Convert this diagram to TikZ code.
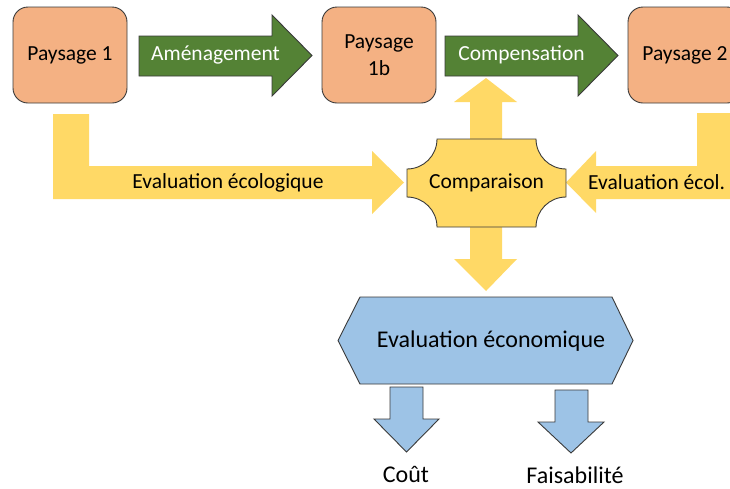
\documentclass[tikz,border=0pt]{standalone}
\usepackage{fontspec}
\setmainfont{Carlito}
\definecolor{orangebox}{HTML}{F4B183}
\definecolor{greenarrow}{HTML}{548235}
\definecolor{yellowarrow}{HTML}{FFD966}
\definecolor{bluebox}{HTML}{9DC3E6}
\definecolor{outline}{HTML}{3A3A3A}
\begin{document}
\begin{tikzpicture}[x=1pt,y=-1pt,
  landbox/.style={draw=outline,line width=0.9pt,fill=orangebox,rounded corners=15pt},
  greenbar/.style={draw=outline,line width=0.9pt,fill=greenarrow},
  yellowbar/.style={fill=yellowarrow},
  bluebar/.style={draw=outline,line width=0.9pt,fill=bluebox},
  txt/.style={font=\fontsize{21.5}{27}\selectfont,inner sep=0pt,text=black},
  bigtxt/.style={font=\fontsize{24}{28}\selectfont,inner sep=0pt,text=black},
  wtxt/.style={txt,text=white}]
\clip (0,0) rectangle (730,488);
\fill[white] (0,0) rectangle (730,488);

% landscapes
\draw[landbox] (13,7) rectangle (127,103);
\node[txt] (p1) at (70,55) {Paysage 1};
\draw[landbox] (322,7) rectangle (436,103);
\node[txt,align=center] (p1b) at (379,55) {Paysage\\1b};
\draw[landbox] (628,7) rectangle (742,103);
\node[txt] (p2) at (685,55) {Paysage 2};

% green arrows
\draw[greenbar] (139,36) -- (272,36) -- (272,15) -- (312,55.5) -- (272,96) -- (272,76) -- (139,76) -- cycle;
\node[wtxt] (amen) at (215.5,55) {Aménagement};
\draw[greenbar] (445,36) -- (578,36) -- (578,15) -- (618,55.5) -- (578,96) -- (578,76) -- (445,76) -- cycle;
\node[wtxt] (comp) at (521.5,55) {Compensation};

% yellow arrows
\fill[yellowbar] (53,114) -- (89,114) -- (89,166) -- (372,166) -- (372,151) -- (404,182.5) -- (372,214) -- (372,199) -- (53,199) -- cycle;
\node[txt] (evl) at (228,183) {Evaluation écologique};
\fill[yellowbar] (697,113) -- (740,113) -- (740,199) -- (596,199) -- (596,213) -- (566,182.5) -- (596,151) -- (596,166) -- (697,166) -- cycle;
\node[txt,anchor=west] (evr) at (588,182) {Evaluation écol.};
\fill[yellowbar] (470,140) -- (470,102) -- (454,102) -- (486,78) -- (517,102) -- (502,102) -- (502,140) -- cycle;
\fill[yellowbar] (470,226) -- (470,259) -- (454,259) -- (486,291) -- (517,259) -- (502,259) -- (502,226) -- cycle;

% comparaison plaque
\draw[outline,line width=0.9pt,fill=yellowarrow]
  (437,139) -- (536,139) .. controls (536,155.6) and (549.4,169) .. (566,169)
  -- (566,197) .. controls (549.4,197) and (536,210.4) .. (536,227)
  -- (437,227) .. controls (437,210.4) and (423.6,197) .. (407,197)
  -- (407,169) .. controls (423.6,169) and (437,155.6) .. (437,139) -- cycle;
\node[txt] (cmp) at (486.5,183) {Comparaison};

% economic evaluation hexagon
\draw[bluebar] (360,297) -- (612,297) -- (633,340.5) -- (612,384) -- (360,384) -- (338,340.5) -- cycle;
\node[bigtxt] (eco) at (491,341) {Evaluation économique};

% blue arrows
\draw[bluebar] (390,387) -- (423,387) -- (423,419) -- (439,419) -- (406.5,452) -- (374,419) -- (390,419) -- cycle;
\draw[bluebar] (555,390) -- (588,390) -- (588,422) -- (604,422) -- (571,453) -- (538,422) -- (555,422) -- cycle;
\node[bigtxt] (cout) at (406,474) {Coût};
\node[bigtxt] (fais) at (575,475) {Faisabilité};
\end{tikzpicture}
\end{document}
